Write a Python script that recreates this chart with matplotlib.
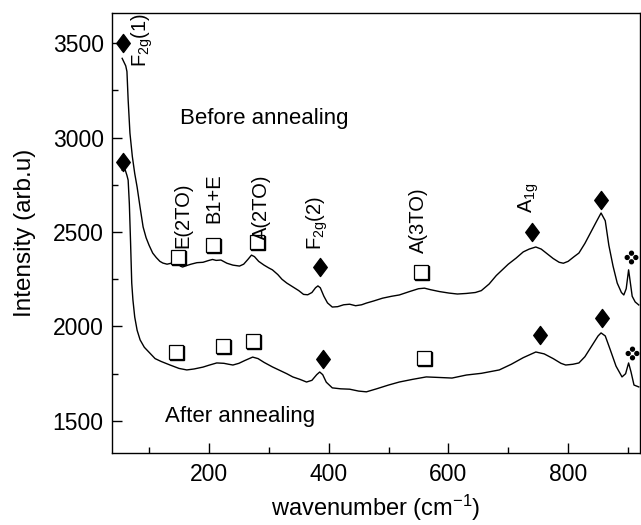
import matplotlib
matplotlib.use("Agg")
import matplotlib.pyplot as plt
from matplotlib.path import Path
from matplotlib.ticker import MultipleLocator
from matplotlib.transforms import offset_copy

plt.rcParams['font.family'] = ['Liberation Sans', 'DejaVu Sans']
plt.rcParams['mathtext.fontset'] = 'custom'
plt.rcParams['mathtext.rm'] = 'Liberation Sans'
plt.rcParams['mathtext.it'] = 'Liberation Sans'
plt.rcParams['mathtext.bf'] = 'Liberation Sans'

# Before annealing spectrum
x_before = [55, 58, 61, 63, 65, 68, 72, 76, 80, 85, 90, 95, 100, 106, 112, 118, 123, 130, 137, 142,
            145, 148, 152, 156, 162, 170, 180, 190, 200, 206, 212, 220, 230, 240, 251, 258, 265, 271,
            276, 283, 292, 300, 306, 315, 322, 330, 340, 350, 358, 365, 372, 378, 382, 386, 392, 398,
            406, 415, 425, 435, 445, 455, 463, 475, 490, 505, 518, 535, 550, 560, 570, 585, 601, 615,
            630, 645, 655, 668, 680, 690, 700, 713, 725, 735, 746, 755, 765, 775, 785, 792, 800, 810,
            818, 828, 838, 848, 855, 862, 868, 875, 882, 889, 893, 897, 901, 904, 907, 912, 918]
y_before = [3420, 3400, 3380, 3350, 3200, 3024, 2900, 2810, 2738, 2630, 2527, 2470, 2430, 2389, 2365,
            2345, 2336, 2330, 2335, 2360, 2372, 2345, 2320, 2315, 2322, 2330, 2338, 2340, 2350, 2355,
            2350, 2352, 2335, 2325, 2320, 2330, 2355, 2378, 2370, 2345, 2325, 2310, 2300, 2275, 2250,
            2230, 2210, 2190, 2170, 2168, 2180, 2205, 2215, 2205, 2160, 2125, 2103, 2105, 2115, 2118,
            2110, 2115, 2124, 2135, 2150, 2160, 2167, 2185, 2200, 2203, 2195, 2185, 2177, 2172, 2175,
            2180, 2190, 2225, 2270, 2300, 2330, 2362, 2395, 2410, 2421, 2410, 2385, 2360, 2340, 2335,
            2345, 2370, 2389, 2440, 2500, 2560, 2601, 2560, 2430, 2320, 2230, 2180, 2167, 2200, 2300,
            2230, 2160, 2130, 2114]

# After annealing spectrum
x_after = [55, 57, 60, 63, 65, 67, 69, 71, 73, 76, 80, 85, 92, 101, 110, 120, 135, 150, 163, 175, 190,
           200, 213, 225, 233, 240, 250, 260, 273, 282, 292, 306, 320, 330, 340, 352, 363, 372, 380,
           385, 390, 396, 406, 420, 435, 450, 463, 480, 500, 518, 540, 563, 585, 606, 630, 655, 685,
           705, 725, 746, 760, 775, 788, 796, 808, 818, 828, 840, 850, 855, 862, 870, 880, 890, 896,
           901, 905, 910, 918]
y_after = [2828, 2844, 2830, 2800, 2775, 2650, 2450, 2230, 2140, 2050, 1980, 1929, 1890, 1860, 1830,
           1815, 1796, 1778, 1770, 1775, 1785, 1795, 1807, 1805, 1800, 1796, 1805, 1820, 1838, 1830,
           1810, 1786, 1765, 1750, 1733, 1720, 1706, 1715, 1745, 1759, 1745, 1705, 1675, 1670, 1668,
           1658, 1654, 1670, 1690, 1706, 1720, 1733, 1730, 1727, 1743, 1752, 1770, 1800, 1835, 1865,
           1855, 1830, 1805, 1796, 1800, 1807, 1840, 1900, 1950, 1966, 1950, 1880, 1790, 1733, 1750,
           1807, 1760, 1690, 1680]

# Marker positions
diam_before_x = [56, 385, 740, 855]
diam_before_y = [3500, 2315, 2500, 2670]
sq_before_x = [148, 206, 281, 555]
sq_before_y = [2368, 2431, 2447, 2288]
dots_before_x = [905]
dots_before_y = [2368]

diam_after_x = [56, 390, 753, 856]
diam_after_y = [2870, 1828, 1955, 2045]
sq_after_x = [145, 223, 273, 560]
sq_after_y = [1865, 1897, 1923, 1833]
dots_after_x = [906]
dots_after_y = [1860]

# Peak labels (rotated)
label_texts = [r'F$_{\mathrm{2g}}$(1)', 'E(2TO)', 'B1+E', 'A(2TO)', r'F$_{\mathrm{2g}}$(2)', 'A(3TO)',
               r'A$_{\mathrm{1g}}$']
label_x = [88, 157, 208, 287, 381, 550, 735]
label_y = [3375, 2415, 2548, 2458, 2405, 2390, 2600]

fig = plt.figure(figsize=(6.41, 5.25), dpi=100)
ax = fig.add_axes([0.1747, 0.1371, 0.8237, 0.8381])

ax.plot(x_before, y_before, color='black', lw=1.0)
ax.plot(x_after, y_after, color='black', lw=1.0)

diamond = Path([(0, 1), (0.75, 0), (0, -1), (-0.75, 0), (0, 1)],
               [Path.MOVETO, Path.LINETO, Path.LINETO, Path.LINETO, Path.CLOSEPOLY])
ax.plot(diam_before_x, diam_before_y, marker=diamond, color='black', ms=13, ls='none')
ax.plot(diam_after_x, diam_after_y, marker=diamond, color='black', ms=13, ls='none')

# squares with shadow
shadow = offset_copy(ax.transData, fig=fig, x=1.0, y=-1.0, units='dots')
for sx, sy in ((sq_before_x, sq_before_y), (sq_after_x, sq_after_y)):
    ax.plot(sx, sy, 's', mfc='black', mec='black', mew=1.0, ms=9.5, ls='none', transform=shadow)
    ax.plot(sx, sy, 's', mfc='white', mec='black', mew=0.9, ms=9.5, ls='none')

# four-dot marker
c = Path.circle
dots = Path.make_compound_path(c((0, 1), 0.45), c((0, -1), 0.45), c((1, 0), 0.45), c((-1, 0), 0.45))
ax.plot(dots_before_x, dots_before_y, marker=dots, color='black', ms=9, ls='none')
ax.plot(dots_after_x, dots_after_y, marker=dots, color='black', ms=9, ls='none')

for t, xx, yy in zip(label_texts, label_x, label_y):
    ax.text(xx, yy, t, rotation=90, ha='center', va='bottom', fontsize=14.5)

ax.text(151, 3103, 'Before annealing', fontsize=16, ha='left', va='center')
ax.text(126, 1521, 'After annealing', fontsize=16, ha='left', va='center')

ax.set_xlim(38, 920)
ax.set_ylim(1330, 3660)
ax.xaxis.set_major_locator(MultipleLocator(200))
ax.xaxis.set_minor_locator(MultipleLocator(100))
ax.yaxis.set_major_locator(MultipleLocator(500))
ax.yaxis.set_minor_locator(MultipleLocator(250))
ax.tick_params(which='both', direction='in', labelsize=16.5, width=1)
ax.tick_params(axis='y', which='both', pad=6)
ax.tick_params(axis='x', which='both', pad=7)
ax.tick_params(which='major', length=7)
ax.tick_params(which='minor', length=4)
for s in ax.spines.values():
    s.set_linewidth(1.0)

ax.set_xlabel(r'wavenumber (cm$^{\mathrm{-1}}$)', fontsize=17, labelpad=5)
ax.set_ylabel('Intensity (arb.u)', fontsize=17.5, labelpad=12)

fig.savefig('out.png', dpi=100)
